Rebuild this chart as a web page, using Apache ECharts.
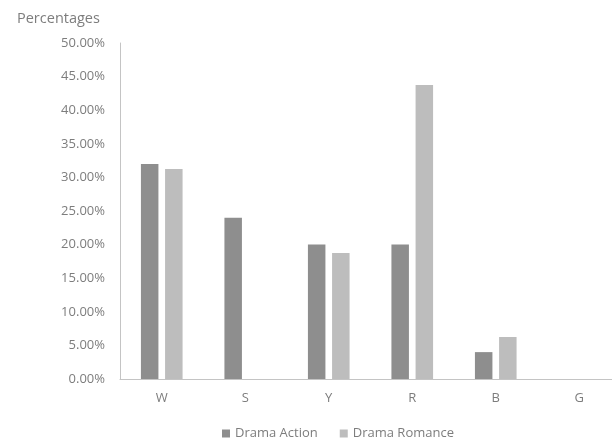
<!DOCTYPE html>
<html>
<head>
<meta charset="utf-8">
<script src="https://cdn.jsdelivr.net/npm/echarts@6/dist/echarts.min.js"></script>
<style>
  html, body { margin: 0; padding: 0; background: #fff; }
  #chart { width: 612px; height: 441px; }
</style>
</head>
<body>
<div id="chart"></div>
<script>
// Share of each letter group, per genre pairing
const categories = ['W', 'S', 'Y', 'R', 'B', 'G'];
const dramaAction = [0.32, 0.24, 0.20, 0.20, 0.04, 0];
const dramaRomance = [0.3125, 0, 0.1875, 0.4375, 0.0625, 0];
const yTicks = { min: 0, max: 0.5, step: 0.05 };

const FONT = '"Open Sans", sans-serif';
const TEXT = '#7d7d7d';
const AXIS = '#c4c4c4';

const chart = echarts.init(document.getElementById('chart'), null, { renderer: 'canvas' });
chart.setOption({
  animation: false,
  backgroundColor: '#fff',
  textStyle: { fontFamily: FONT },
  title: {
    text: 'Percentages',
    left: 12,
    top: 6,
    textStyle: { fontFamily: FONT, fontSize: 14.5, fontWeight: 'normal', color: TEXT }
  },
  legend: {
    left: 217,
    top: 422,
    itemWidth: 8,
    itemHeight: 8,
    itemGap: 22,
    icon: 'rect',
    textStyle: { fontFamily: FONT, fontSize: 13, color: TEXT },
    data: ['Drama Action', 'Drama Romance']
  },
  // plot area runs a little past the right edge of the canvas
  grid: {
    left: 120, top: 43, width: 501, height: 336,
    containLabel: false,
    outerBoundsMode: 'none'
  },
  xAxis: {
    type: 'category',
    data: categories,
    axisLine: { lineStyle: { color: AXIS, width: 1 } },
    axisTick: { show: false },
    axisLabel: { color: TEXT, fontSize: 13, fontFamily: FONT, margin: 13 },
    splitLine: { show: false }
  },
  yAxis: {
    type: 'value',
    min: yTicks.min,
    max: yTicks.max,
    interval: yTicks.step,
    axisLine: { show: true, lineStyle: { color: AXIS, width: 1 } },
    axisTick: { show: false },
    splitLine: { show: false },
    axisLabel: {
      color: TEXT, fontSize: 13, fontFamily: FONT, margin: 15,
      formatter: v => (v * 100).toFixed(2) + '%'
    }
  },
  series: [
    {
      name: 'Drama Action',
      type: 'bar',
      data: dramaAction,
      barWidth: 17.5,
      barGap: '38%',
      itemStyle: { color: '#8e8e8e' }
    },
    {
      name: 'Drama Romance',
      type: 'bar',
      data: dramaRomance,
      barWidth: 17.5,
      itemStyle: { color: '#bdbdbd' }
    }
  ]
});
</script>
</body>
</html>
